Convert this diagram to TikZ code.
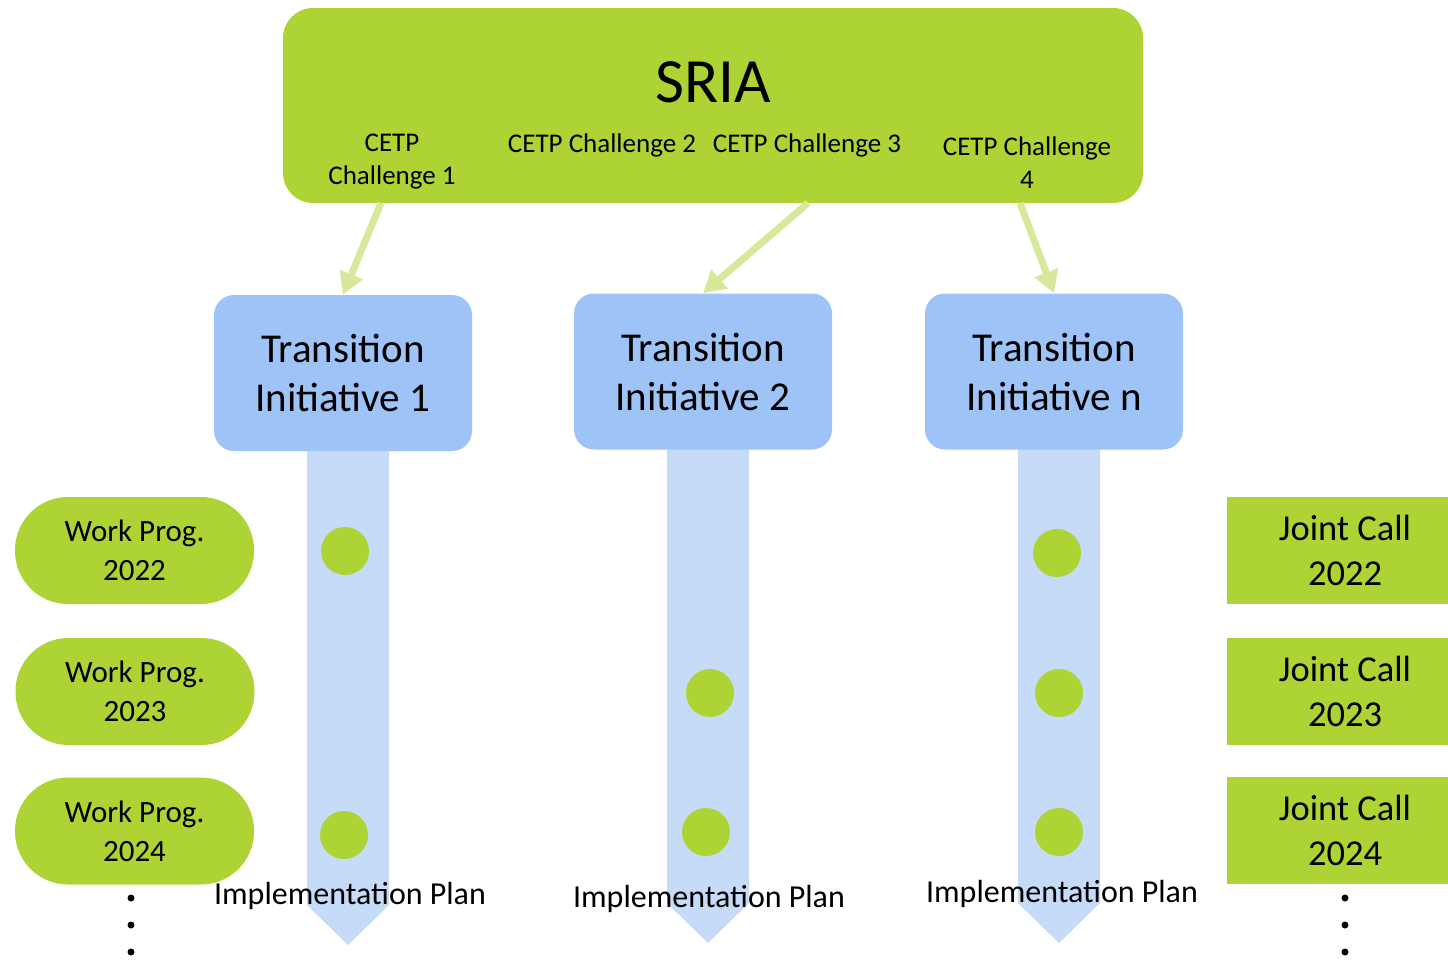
\documentclass[tikz,border=0pt]{standalone}
\usepackage{fontspec}
\setmainfont{Carlito}
\usetikzlibrary{arrows.meta}
\definecolor{sriagreen}{RGB}{173,212,52}
\definecolor{pathgreen}{RGB}{214,233,155}
\definecolor{tiblue}{RGB}{158,196,247}
\definecolor{planblue}{RGB}{197,219,247}
\begin{document}
\begin{tikzpicture}[x=1pt, y=-1pt,
    sria/.style ={fill=sriagreen, rounded corners=30pt, minimum width=860pt, minimum height=195pt},
    challenge/.style ={align=center, font=\fontsize{27}{33}\selectfont},
    initiative/.style ={fill=tiblue, rounded corners=20pt, minimum width=258pt, minimum height=156pt,
                        align=center, font=\fontsize{41}{49}\selectfont},
    workprog/.style ={fill=sriagreen, rounded corners=53pt, minimum width=239pt, minimum height=107pt,
                      align=center, font=\fontsize{31}{39}\selectfont},
    jointcall/.style ={fill=sriagreen, minimum width=236pt, minimum height=107pt,
                       align=center, font=\fontsize{36.5}{45}\selectfont},
    milestone/.style ={circle, fill=sriagreen, minimum size=48pt, inner sep=0pt},
    plan/.style ={font=\fontsize{32}{36}\selectfont},
    feed/.style ={pathgreen, line width=7pt, -{Triangle[width=24pt,length=22pt]}},
    more/.style ={circle, fill=black, minimum size=7pt, inner sep=0pt}]
   \useasboundingbox (0,0) rectangle (1448,959);

   % blue implementation arrows
   \fill[planblue] (307,450) -- (389,450) -- (389,905) -- (348,945) -- (307,905) -- cycle;
   \fill[planblue] (667,448) -- (749,448) -- (749,903) -- (708,943) -- (667,903) -- cycle;
   \fill[planblue] (1018,448) -- (1100,448) -- (1100,903) -- (1059,943) -- (1018,903) -- cycle;

   % SRIA
   \node[sria] (S) at (713,105.5) {};
   \node[font=\fontsize{63}{70}\selectfont] (SRIA) at (713,82) {SRIA};
   \node[challenge] (C1) at (392,162) {CETP\\Challenge 1};
   \node[challenge] (C2) at (602,145) {CETP Challenge 2};
   \node[challenge] (C3) at (807,145) {CETP Challenge 3};
   \node[challenge] (C4) at (1027,163) {CETP Challenge\\4};

   % transition initiatives
   \node[initiative] (T1) at (343,373) {Transition\\Initiative 1};
   \node[initiative] (T2) at (703,371.5) {Transition\\Initiative 2};
   \node[initiative] (T3) at (1054,371.5) {Transition\\Initiative n};

   \coordinate (F1) at (381,203);
   \coordinate (F2) at (808,203);
   \coordinate (F3) at (1020,203);
   \draw[feed] (F1) to (T1.north);
   \draw[feed] (F2) to (T2.north);
   \draw[feed] (F3) to (T3.north);

   % milestones
   \node[milestone] (M11) at (345,551) {};
   \node[milestone] (M13) at (344,835) {};
   \node[milestone] (M22) at (710,693) {};
   \node[milestone] (M23) at (706,832) {};
   \node[milestone] (M31) at (1057,553) {};
   \node[milestone] (M32) at (1059,693) {};
   \node[milestone] (M33) at (1059,832) {};

   \node[plan] (P1) at (350,896) {Implementation Plan};
   \node[plan] (P2) at (709,899) {Implementation Plan};
   \node[plan] (P3) at (1062,894) {Implementation Plan};

   % work programmes
   \node[workprog] (W1) at (134.5,550.5) {Work Prog.\\2022};
   \node[workprog] (W2) at (135,691.5) {Work Prog.\\2023};
   \node[workprog] (W3) at (134.5,831) {Work Prog.\\2024};
   \node[more] (WD1) at (131,898) {};
   \node[more] (WD2) at (131,925) {};
   \node[more] (WD3) at (131,952) {};

   % joint calls
   \node[jointcall] (J1) at (1345,550.5) {Joint Call\\2022};
   \node[jointcall] (J2) at (1345,691.5) {Joint Call\\2023};
   \node[jointcall] (J3) at (1345,830.5) {Joint Call\\2024};
   \node[more] (JD1) at (1345,898) {};
   \node[more] (JD2) at (1345,925) {};
   \node[more] (JD3) at (1345,952) {};

 \end{tikzpicture}
\end{document}
